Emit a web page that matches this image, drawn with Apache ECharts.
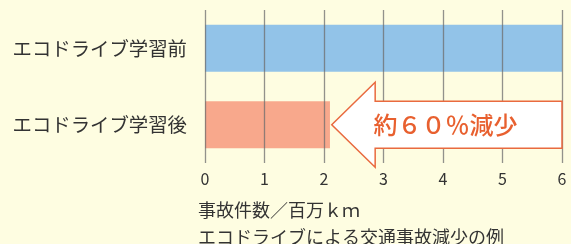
<!DOCTYPE html>
<html>
<head>
<meta charset="utf-8">
<script src="https://cdn.jsdelivr.net/npm/echarts@6/dist/echarts.min.js"></script>
<style>
html,body{margin:0;padding:0;background:#FEFDE1;}
#c{width:571px;height:244px;}
</style>
</head>
<body>
<div id="c"></div>
<script>
const categories = ['エコドライブ学習前', 'エコドライブ学習後'];
const beforeValues = [6, '-'];
const afterValues = ['-', 2.1];
const xTicks = { min: 0, max: 6, interval: 1 };
const axisTitle = '事故件数／百万ｋｍ';
const caption = 'エコドライブによる交通事故減少の例';
const arrowLabel = '約６０％減少';
// arrow annotation expressed in axis values
const arrowTip = 2.13, arrowHeadBase = 2.86, arrowEnd = 6;

const FONT = '"Noto Sans CJK JP", "Noto Sans", sans-serif';
const chart = echarts.init(document.getElementById('c'), null, {renderer: 'canvas'});
chart.setOption({
  backgroundColor: '#FEFDE1',
  animation: false,
  grid: { left: 205, right: 9, top: 10, height: 153 },
  xAxis: {
    type: 'value', min: xTicks.min, max: xTicks.max, interval: xTicks.interval,
    z: 3,
    axisLine: { show: false }, axisTick: { show: false },
    splitLine: { show: true, lineStyle: { color: 'rgba(110,110,110,0.75)', width: 1.3 } },
    axisLabel: { margin: 8, fontSize: 16, color: '#333', fontFamily: FONT }
  },
  yAxis: {
    type: 'category', data: categories, inverse: true,
    axisLine: { show: false }, axisTick: { show: false },
    axisLabel: { margin: 18, fontSize: 19.4, color: '#333', fontFamily: FONT }
  },
  series: [
    { type: 'bar', data: beforeValues, barWidth: 47, barGap: '-100%', z: 2,
      itemStyle: { color: '#92C3E8' } },
    { type: 'bar', data: afterValues, barWidth: 47, barGap: '-100%', z: 2,
      itemStyle: { color: '#F8A88C' } }
  ]
});

function px(x, cat) { return chart.convertToPixel({ gridIndex: 0 }, [x, cat]); }
const tip = px(arrowTip, categories[1]);
const base = px(arrowHeadBase, categories[1]);
const end = px(arrowEnd, categories[1]);
const cy = tip[1];
const sh = 23.5, hh = 42.5;
chart.setOption({
  graphic: [
    { type: 'polygon', z: 10,
      shape: { points: [
        [tip[0], cy], [base[0], cy - hh], [base[0], cy - sh], [end[0], cy - sh],
        [end[0], cy + sh], [base[0], cy + sh], [base[0], cy + hh]
      ] },
      style: { fill: '#FFFFFF', stroke: '#E96A3F', lineWidth: 1.5 } },
    { type: 'text', z: 11, x: (base[0] + end[0]) / 2 - 23, y: cy,
      style: { text: arrowLabel, fill: '#E8602F', font: '500 24px ' + FONT,
        align: 'center', verticalAlign: 'middle' } },
    { type: 'text', x: 198, y: 210,
      style: { text: axisTitle, fill: '#333', font: '18px ' + FONT, verticalAlign: 'middle' } },
    { type: 'text', x: 198, y: 237,
      style: { text: caption, fill: '#333', font: '18px ' + FONT, verticalAlign: 'middle' } }
  ]
});
</script>
</body>
</html>
